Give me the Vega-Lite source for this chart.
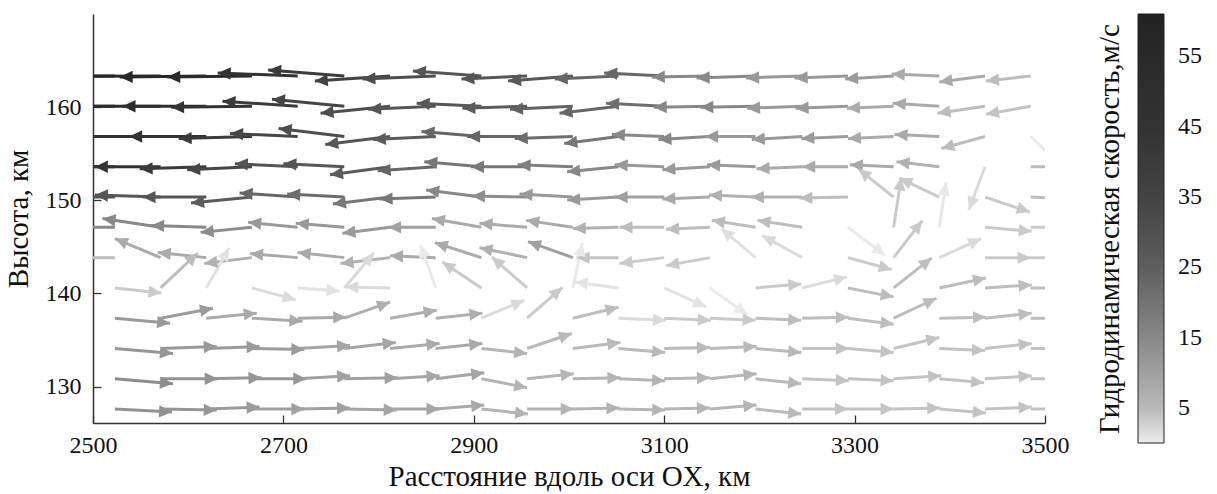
{
"$schema":"https://vega.github.io/schema/vega-lite/v6.json",
"width":952,"height":409,
"autosize":{"type":"none"},
"padding":{"left":93,"top":14,"right":172,"bottom":71},
"background":"white",
"config":{"view":{"stroke":null},"font":"Liberation Serif","axis":{"grid":false}},
"data":{"values":[
{"x":2523,"y":163.35,"x2":2431,"y2":163.35,"s":56},
{"x":2571,"y":163.35,"x2":2479,"y2":163.3,"s":55},
{"x":2619,"y":163.35,"x2":2528,"y2":163.24,"s":55},
{"x":2667,"y":163.35,"x2":2578,"y2":163.24,"s":52},
{"x":2715,"y":163.35,"x2":2631,"y2":163.67,"s":45},
{"x":2764,"y":163.35,"x2":2684,"y2":164.0,"s":40},
{"x":2812,"y":163.35,"x2":2733,"y2":162.81,"s":35},
{"x":2860,"y":163.35,"x2":2783,"y2":163.03,"s":31},
{"x":2908,"y":163.35,"x2":2836,"y2":163.89,"s":28},
{"x":2956,"y":163.35,"x2":2887,"y2":163.03,"s":28},
{"x":3004,"y":163.35,"x2":2936,"y2":162.81,"s":27},
{"x":3052,"y":163.35,"x2":2985,"y2":163.03,"s":23},
{"x":3100,"y":163.35,"x2":3037,"y2":163.67,"s":23},
{"x":3148,"y":163.35,"x2":3087,"y2":163.24,"s":15},
{"x":3196,"y":163.35,"x2":3134,"y2":163.14,"s":15},
{"x":3245,"y":163.35,"x2":3186,"y2":163.14,"s":11.5},
{"x":3293,"y":163.35,"x2":3237,"y2":163.14,"s":11.5},
{"x":3341,"y":163.35,"x2":3290,"y2":163.03,"s":11},
{"x":3389,"y":163.35,"x2":3339,"y2":163.56,"s":8},
{"x":3437,"y":163.35,"x2":3389,"y2":162.71,"s":8},
{"x":3485,"y":163.35,"x2":3438,"y2":162.81,"s":4.6},
{"x":2523,"y":160.1,"x2":2431,"y2":160.1,"s":52},
{"x":2571,"y":160.1,"x2":2481,"y2":160.1,"s":52},
{"x":2619,"y":160.1,"x2":2531,"y2":160.1,"s":50},
{"x":2667,"y":160.1,"x2":2582,"y2":159.99,"s":45},
{"x":2715,"y":160.1,"x2":2636,"y2":160.64,"s":40},
{"x":2764,"y":160.1,"x2":2688,"y2":160.85,"s":34},
{"x":2812,"y":160.1,"x2":2739,"y2":159.35,"s":31},
{"x":2860,"y":160.1,"x2":2789,"y2":159.78,"s":28},
{"x":2908,"y":160.1,"x2":2840,"y2":160.42,"s":28},
{"x":2956,"y":160.1,"x2":2888,"y2":159.89,"s":26},
{"x":3004,"y":160.1,"x2":2938,"y2":159.78,"s":24},
{"x":3052,"y":160.1,"x2":2990,"y2":159.35,"s":23},
{"x":3100,"y":160.1,"x2":3039,"y2":160.42,"s":21},
{"x":3148,"y":160.1,"x2":3089,"y2":159.99,"s":15},
{"x":3196,"y":160.1,"x2":3138,"y2":159.99,"s":15},
{"x":3245,"y":160.1,"x2":3187,"y2":159.89,"s":11.5},
{"x":3293,"y":160.1,"x2":3238,"y2":159.89,"s":11.5},
{"x":3341,"y":160.1,"x2":3292,"y2":159.89,"s":8},
{"x":3389,"y":160.1,"x2":3340,"y2":160.42,"s":8},
{"x":3437,"y":160.1,"x2":3387,"y2":159.35,"s":4.6},
{"x":3485,"y":160.1,"x2":3438,"y2":159.24,"s":4},
{"x":2523,"y":156.85,"x2":2439,"y2":156.85,"s":47},
{"x":2571,"y":156.85,"x2":2487,"y2":156.85,"s":46},
{"x":2619,"y":156.85,"x2":2538,"y2":156.85,"s":45},
{"x":2667,"y":156.85,"x2":2590,"y2":156.64,"s":40},
{"x":2715,"y":156.85,"x2":2644,"y2":157.17,"s":34},
{"x":2764,"y":156.85,"x2":2695,"y2":157.71,"s":31},
{"x":2812,"y":156.85,"x2":2744,"y2":155.99,"s":28},
{"x":2860,"y":156.85,"x2":2794,"y2":156.53,"s":26},
{"x":2908,"y":156.85,"x2":2845,"y2":157.39,"s":23},
{"x":2956,"y":156.85,"x2":2893,"y2":156.85,"s":23},
{"x":3004,"y":156.85,"x2":2943,"y2":156.64,"s":21},
{"x":3052,"y":156.85,"x2":2995,"y2":156.1,"s":19},
{"x":3100,"y":156.85,"x2":3045,"y2":157.06,"s":15},
{"x":3148,"y":156.85,"x2":3094,"y2":156.53,"s":15},
{"x":3196,"y":156.85,"x2":3143,"y2":156.85,"s":11.5},
{"x":3245,"y":156.85,"x2":3192,"y2":156.53,"s":11.5},
{"x":3293,"y":156.85,"x2":3244,"y2":156.64,"s":11},
{"x":3341,"y":156.85,"x2":3293,"y2":156.64,"s":8},
{"x":3389,"y":156.85,"x2":3342,"y2":157.06,"s":8},
{"x":3437,"y":156.85,"x2":3391,"y2":155.56,"s":4.6},
{"x":3485,"y":156.85,"x2":3520,"y2":153.31,"s":0.3},
{"x":2523,"y":153.6,"x2":2453,"y2":153.6,"s":46},
{"x":2571,"y":153.6,"x2":2502,"y2":153.6,"s":45},
{"x":2619,"y":153.6,"x2":2549,"y2":153.39,"s":40},
{"x":2667,"y":153.6,"x2":2599,"y2":153.28,"s":34},
{"x":2715,"y":153.6,"x2":2649,"y2":153.92,"s":29},
{"x":2764,"y":153.6,"x2":2700,"y2":153.92,"s":28},
{"x":2812,"y":153.6,"x2":2749,"y2":152.74,"s":26},
{"x":2860,"y":153.6,"x2":2799,"y2":153.17,"s":23},
{"x":2908,"y":153.6,"x2":2848,"y2":154.14,"s":19},
{"x":2956,"y":153.6,"x2":2897,"y2":153.6,"s":19},
{"x":3004,"y":153.6,"x2":2946,"y2":153.81,"s":17},
{"x":3052,"y":153.6,"x2":2998,"y2":153.06,"s":15},
{"x":3100,"y":153.6,"x2":3048,"y2":153.81,"s":11.5},
{"x":3148,"y":153.6,"x2":3098,"y2":153.28,"s":11.5},
{"x":3196,"y":153.6,"x2":3145,"y2":153.81,"s":11},
{"x":3245,"y":153.6,"x2":3197,"y2":153.39,"s":8},
{"x":3293,"y":153.6,"x2":3245,"y2":153.6,"s":8},
{"x":3341,"y":153.6,"x2":3295,"y2":153.81,"s":8},
{"x":3389,"y":153.6,"x2":3344,"y2":154.14,"s":6.5},
{"x":3437,"y":153.6,"x2":3420,"y2":148.99,"s":1.7},
{"x":3485,"y":153.6,"x2":3532,"y2":153.6,"s":4.6},
{"x":2523,"y":150.35,"x2":2458,"y2":150.35,"s":30},
{"x":2571,"y":150.35,"x2":2502,"y2":150.56,"s":28},
{"x":2619,"y":150.35,"x2":2552,"y2":150.35,"s":28},
{"x":2667,"y":150.35,"x2":2603,"y2":149.71,"s":26},
{"x":2715,"y":150.35,"x2":2654,"y2":150.78,"s":23},
{"x":2764,"y":150.35,"x2":2704,"y2":150.67,"s":21},
{"x":2812,"y":150.35,"x2":2752,"y2":149.6,"s":19},
{"x":2860,"y":150.35,"x2":2801,"y2":150.14,"s":19},
{"x":2908,"y":150.35,"x2":2850,"y2":151.1,"s":15},
{"x":2956,"y":150.35,"x2":2898,"y2":150.46,"s":14},
{"x":3004,"y":150.35,"x2":2948,"y2":150.67,"s":11.5},
{"x":3052,"y":150.35,"x2":2998,"y2":150.03,"s":11.5},
{"x":3100,"y":150.35,"x2":3048,"y2":150.35,"s":10},
{"x":3148,"y":150.35,"x2":3098,"y2":150.14,"s":8},
{"x":3196,"y":150.35,"x2":3147,"y2":150.56,"s":6.5},
{"x":3245,"y":150.35,"x2":3191,"y2":150.35,"s":6.5},
{"x":3293,"y":150.35,"x2":3242,"y2":150.24,"s":4.6},
{"x":3341,"y":150.35,"x2":3304,"y2":153.35,"s":3.3},
{"x":3389,"y":150.35,"x2":3347,"y2":152.39,"s":3.3},
{"x":3437,"y":150.35,"x2":3484,"y2":148.74,"s":3.3},
{"x":3485,"y":150.35,"x2":3532,"y2":150.14,"s":4.6},
{"x":2523,"y":147.1,"x2":2473,"y2":147.1,"s":15},
{"x":2571,"y":147.1,"x2":2510,"y2":148.06,"s":15},
{"x":2619,"y":147.1,"x2":2561,"y2":147.31,"s":15},
{"x":2667,"y":147.1,"x2":2613,"y2":146.56,"s":14},
{"x":2715,"y":147.1,"x2":2663,"y2":147.64,"s":11.5},
{"x":2764,"y":147.1,"x2":2713,"y2":147.53,"s":11.5},
{"x":2812,"y":147.1,"x2":2762,"y2":146.46,"s":11.5},
{"x":2860,"y":147.1,"x2":2810,"y2":147.1,"s":10},
{"x":2908,"y":147.1,"x2":2856,"y2":148.06,"s":8},
{"x":2956,"y":147.1,"x2":2906,"y2":147.53,"s":8},
{"x":3004,"y":147.1,"x2":2955,"y2":147.85,"s":8},
{"x":3052,"y":147.1,"x2":3004,"y2":146.99,"s":6.5},
{"x":3100,"y":147.1,"x2":3053,"y2":147.1,"s":4.6},
{"x":3148,"y":147.1,"x2":3102,"y2":146.89,"s":4.6},
{"x":3196,"y":147.1,"x2":3150,"y2":147.85,"s":4.6},
{"x":3245,"y":147.1,"x2":3198,"y2":147.85,"s":4.6},
{"x":3293,"y":147.1,"x2":3332,"y2":144.1,"s":0.3},
{"x":3341,"y":147.1,"x2":3349,"y2":152.46,"s":3.3},
{"x":3389,"y":147.1,"x2":3396,"y2":151.92,"s":0.5},
{"x":3437,"y":147.1,"x2":3486,"y2":146.67,"s":3.3},
{"x":3485,"y":147.1,"x2":3532,"y2":147.1,"s":3.3},
{"x":2523,"y":143.85,"x2":2475,"y2":143.85,"s":4.6},
{"x":2571,"y":143.85,"x2":2523,"y2":145.89,"s":8},
{"x":2619,"y":143.85,"x2":2568,"y2":144.39,"s":8},
{"x":2667,"y":143.85,"x2":2617,"y2":143.21,"s":6.5},
{"x":2715,"y":143.85,"x2":2665,"y2":144.28,"s":8},
{"x":2764,"y":143.85,"x2":2715,"y2":144.39,"s":8},
{"x":2812,"y":143.85,"x2":2760,"y2":143.21,"s":6.5},
{"x":2860,"y":143.85,"x2":2812,"y2":144.06,"s":8},
{"x":2908,"y":143.85,"x2":2859,"y2":145.46,"s":8},
{"x":2956,"y":143.85,"x2":2906,"y2":144.92,"s":6.5},
{"x":3004,"y":143.85,"x2":2957,"y2":145.57,"s":10},
{"x":3052,"y":143.85,"x2":3008,"y2":143.85,"s":4},
{"x":3100,"y":143.85,"x2":3053,"y2":143.21,"s":3.3},
{"x":3148,"y":143.85,"x2":3102,"y2":142.99,"s":3.3},
{"x":3196,"y":143.85,"x2":3160,"y2":146.96,"s":1.2},
{"x":3245,"y":143.85,"x2":3203,"y2":146.21,"s":1.7},
{"x":3293,"y":143.85,"x2":3339,"y2":142.56,"s":3.3},
{"x":3341,"y":143.85,"x2":3371,"y2":147.82,"s":3.3},
{"x":3389,"y":143.85,"x2":3433,"y2":145.89,"s":1.7},
{"x":3437,"y":143.85,"x2":3485,"y2":143.85,"s":3.3},
{"x":3485,"y":143.85,"x2":3532,"y2":143.85,"s":3.3},
{"x":2523,"y":140.6,"x2":2572,"y2":140.06,"s":3.3},
{"x":2571,"y":140.6,"x2":2610,"y2":144.35,"s":4.6},
{"x":2619,"y":140.6,"x2":2643,"y2":144.89,"s":1},
{"x":2667,"y":140.6,"x2":2713,"y2":139.31,"s":1.7},
{"x":2715,"y":140.6,"x2":2759,"y2":140.28,"s":1},
{"x":2764,"y":140.6,"x2":2795,"y2":144.35,"s":1.7},
{"x":2812,"y":140.6,"x2":2765,"y2":140.71,"s":1.7},
{"x":2860,"y":140.6,"x2":2844,"y2":145.21,"s":0.3},
{"x":2908,"y":140.6,"x2":2867,"y2":143.39,"s":3.3},
{"x":2956,"y":140.6,"x2":2919,"y2":143.92,"s":3.3},
{"x":3004,"y":140.6,"x2":3014,"y2":145.42,"s":0.3},
{"x":3052,"y":140.6,"x2":3006,"y2":141.24,"s":1},
{"x":3100,"y":140.6,"x2":3144,"y2":138.56,"s":1},
{"x":3148,"y":140.6,"x2":3187,"y2":137.71,"s":0.3},
{"x":3196,"y":140.6,"x2":3244,"y2":141.03,"s":3.3},
{"x":3245,"y":140.6,"x2":3292,"y2":141.78,"s":1.7},
{"x":3293,"y":140.6,"x2":3341,"y2":139.64,"s":4.6},
{"x":3341,"y":140.6,"x2":3381,"y2":143.82,"s":4.6},
{"x":3389,"y":140.6,"x2":3438,"y2":141.67,"s":4.6},
{"x":3437,"y":140.6,"x2":3486,"y2":140.92,"s":4.6},
{"x":3485,"y":140.6,"x2":3532,"y2":140.6,"s":4.6},
{"x":2523,"y":137.35,"x2":2581,"y2":136.81,"s":11.5},
{"x":2571,"y":137.35,"x2":2626,"y2":138.42,"s":11},
{"x":2619,"y":137.35,"x2":2672,"y2":137.89,"s":8},
{"x":2667,"y":137.35,"x2":2720,"y2":137.03,"s":8},
{"x":2715,"y":137.35,"x2":2766,"y2":137.46,"s":8},
{"x":2764,"y":137.35,"x2":2812,"y2":139.07,"s":7},
{"x":2812,"y":137.35,"x2":2861,"y2":138.21,"s":7},
{"x":2860,"y":137.35,"x2":2909,"y2":137.89,"s":7},
{"x":2908,"y":137.35,"x2":2953,"y2":139.28,"s":1.7},
{"x":2956,"y":137.35,"x2":2993,"y2":140.67,"s":3.3},
{"x":3004,"y":137.35,"x2":3052,"y2":138.53,"s":4.6},
{"x":3052,"y":137.35,"x2":3102,"y2":137.14,"s":1.7},
{"x":3100,"y":137.35,"x2":3149,"y2":137.14,"s":3.3},
{"x":3148,"y":137.35,"x2":3196,"y2":137.14,"s":3.3},
{"x":3196,"y":137.35,"x2":3244,"y2":137.14,"s":4.6},
{"x":3245,"y":137.35,"x2":3294,"y2":137.46,"s":4.6},
{"x":3293,"y":137.35,"x2":3341,"y2":136.71,"s":4.6},
{"x":3341,"y":137.35,"x2":3386,"y2":139.49,"s":4.6},
{"x":3389,"y":137.35,"x2":3438,"y2":137.46,"s":4.6},
{"x":3437,"y":137.35,"x2":3486,"y2":137.89,"s":4.6},
{"x":3485,"y":137.35,"x2":3532,"y2":137.35,"s":4.6},
{"x":2523,"y":134.1,"x2":2584,"y2":133.56,"s":12},
{"x":2571,"y":134.1,"x2":2630,"y2":134.31,"s":11.5},
{"x":2619,"y":134.1,"x2":2675,"y2":134.31,"s":11},
{"x":2667,"y":134.1,"x2":2722,"y2":133.99,"s":11},
{"x":2715,"y":134.1,"x2":2770,"y2":134.42,"s":9},
{"x":2764,"y":134.1,"x2":2818,"y2":134.74,"s":9},
{"x":2812,"y":134.1,"x2":2864,"y2":134.64,"s":8},
{"x":2860,"y":134.1,"x2":2909,"y2":134.64,"s":8},
{"x":2908,"y":134.1,"x2":2956,"y2":133.56,"s":6},
{"x":2956,"y":134.1,"x2":3003,"y2":135.71,"s":5},
{"x":3004,"y":134.1,"x2":3054,"y2":134.74,"s":5},
{"x":3052,"y":134.1,"x2":3101,"y2":133.67,"s":5},
{"x":3100,"y":134.1,"x2":3148,"y2":134.21,"s":5},
{"x":3148,"y":134.1,"x2":3197,"y2":134.31,"s":5},
{"x":3196,"y":134.1,"x2":3244,"y2":133.67,"s":5},
{"x":3245,"y":134.1,"x2":3294,"y2":134.1,"s":4},
{"x":3293,"y":134.1,"x2":3341,"y2":133.67,"s":4},
{"x":3341,"y":134.1,"x2":3389,"y2":135.28,"s":4},
{"x":3389,"y":134.1,"x2":3437,"y2":133.89,"s":4},
{"x":3437,"y":134.1,"x2":3486,"y2":134.64,"s":4},
{"x":3485,"y":134.1,"x2":3532,"y2":134.1,"s":4},
{"x":2523,"y":130.85,"x2":2584,"y2":130.31,"s":14},
{"x":2571,"y":130.85,"x2":2631,"y2":130.85,"s":13},
{"x":2619,"y":130.85,"x2":2677,"y2":130.96,"s":12},
{"x":2667,"y":130.85,"x2":2724,"y2":130.85,"s":12},
{"x":2715,"y":130.85,"x2":2770,"y2":131.17,"s":10},
{"x":2764,"y":130.85,"x2":2820,"y2":130.96,"s":10},
{"x":2812,"y":130.85,"x2":2864,"y2":131.17,"s":9},
{"x":2860,"y":130.85,"x2":2911,"y2":131.49,"s":9},
{"x":2908,"y":130.85,"x2":2956,"y2":129.89,"s":6},
{"x":2956,"y":130.85,"x2":3005,"y2":131.39,"s":6},
{"x":3004,"y":130.85,"x2":3054,"y2":130.96,"s":6},
{"x":3052,"y":130.85,"x2":3101,"y2":130.64,"s":6},
{"x":3100,"y":130.85,"x2":3148,"y2":130.96,"s":5.5},
{"x":3148,"y":130.85,"x2":3197,"y2":131.39,"s":5.5},
{"x":3196,"y":130.85,"x2":3244,"y2":130.31,"s":5},
{"x":3245,"y":130.85,"x2":3294,"y2":130.64,"s":4},
{"x":3293,"y":130.85,"x2":3341,"y2":130.64,"s":4},
{"x":3341,"y":130.85,"x2":3391,"y2":131.17,"s":4},
{"x":3389,"y":130.85,"x2":3436,"y2":130.42,"s":4},
{"x":3437,"y":130.85,"x2":3486,"y2":131.17,"s":4},
{"x":3485,"y":130.85,"x2":3532,"y2":130.85,"s":4},
{"x":2523,"y":127.6,"x2":2583,"y2":127.28,"s":13},
{"x":2571,"y":127.6,"x2":2630,"y2":127.49,"s":12},
{"x":2619,"y":127.6,"x2":2675,"y2":127.81,"s":11},
{"x":2667,"y":127.6,"x2":2722,"y2":127.6,"s":10},
{"x":2715,"y":127.6,"x2":2770,"y2":127.71,"s":10},
{"x":2764,"y":127.6,"x2":2819,"y2":127.49,"s":9},
{"x":2812,"y":127.6,"x2":2864,"y2":127.6,"s":9},
{"x":2860,"y":127.6,"x2":2911,"y2":128.03,"s":8},
{"x":2908,"y":127.6,"x2":2957,"y2":127.06,"s":6},
{"x":2956,"y":127.6,"x2":3005,"y2":127.6,"s":6},
{"x":3004,"y":127.6,"x2":3053,"y2":127.71,"s":6},
{"x":3052,"y":127.6,"x2":3101,"y2":127.49,"s":5.5},
{"x":3100,"y":127.6,"x2":3148,"y2":127.71,"s":5.5},
{"x":3148,"y":127.6,"x2":3197,"y2":128.03,"s":5.5},
{"x":3196,"y":127.6,"x2":3244,"y2":127.06,"s":5},
{"x":3245,"y":127.6,"x2":3293,"y2":127.6,"s":4},
{"x":3293,"y":127.6,"x2":3341,"y2":127.6,"s":4},
{"x":3341,"y":127.6,"x2":3390,"y2":127.71,"s":4},
{"x":3389,"y":127.6,"x2":3438,"y2":127.17,"s":4},
{"x":3437,"y":127.6,"x2":3486,"y2":127.81,"s":4},
{"x":3485,"y":127.6,"x2":3534,"y2":127.6,"s":4}
]},
"transform":[{"calculate":"atan2(-(datum.y2-datum.y)*9.317,(datum.x2-datum.x)*0.952)*180/PI","as":"ang"}],
"layer":[
 {"mark":{"type":"rule","strokeWidth":3,"clip":true},
  "encoding":{
   "x":{"field":"x","type":"quantitative","scale":{"domain":[2500,3500],"nice":false,"zero":false},
    "axis":{"title":"Расстояние вдоль оси OX, км","values":[2500,2700,2900,3100,3300,3500],"format":"d","ticks":false,"grid":false,"labelFlush":false,"labelPadding":10,"titlePadding":5,
     "labelFont":"Liberation Serif","labelFontSize":24,"labelColor":"#111","titleFont":"Liberation Serif","titleFontSize":29,"titleFontWeight":"normal","titleColor":"#111","domainColor":"#333","domainWidth":1.5}},
   "y":{"field":"y","type":"quantitative","scale":{"domain":[126.1,170],"nice":false,"zero":false},
    "axis":{"title":"Высота, км","values":[130,140,150,160],"format":"d","ticks":false,"grid":false,"labelFlush":false,"labelPadding":12,"titlePadding":12,
     "labelFont":"Liberation Serif","labelFontSize":24,"labelColor":"#111","titleFont":"Liberation Serif","titleFontSize":29,"titleFontWeight":"normal","titleColor":"#111","domainColor":"#333","domainWidth":1.5}},
   "x2":{"field":"x2"},"y2":{"field":"y2"},
   "color":{"field":"s","type":"quantitative",
    "scale":{"domain":[0,5,15,25,35,45,55,61],"range":["#ececec","#b9b9b9","#888888","#5e5e5e","#434343","#333333","#292929","#222222"]},
    "legend":null}}},
 {"mark":{"type":"point","filled":true,"opacity":1,"size":169,"shape":"M0,0L-2,-0.95L-2,0.95Z","clip":true},
  "encoding":{
   "x":{"field":"x2","type":"quantitative","axis":{"orient":"top","offset":-409,"values":[2500,2700,2900,3100,3300,3500],"labels":false,"domain":false,"grid":false,"title":null,"tickSize":8,"tickColor":"#333","tickWidth":1.3}},
   "y":{"field":"y2","type":"quantitative","axis":{"orient":"right","offset":-952,"values":[130,140,150,160],"labels":false,"domain":false,"grid":false,"title":null,"tickSize":8,"tickColor":"#333","tickWidth":1.3}},
   "angle":{"field":"ang","type":"quantitative","scale":null},
   "color":{"field":"s","type":"quantitative",
    "legend":{"type":"gradient","orient":"none","legendX":1003,"legendY":0,"direction":"vertical","gradientLength":429,"gradientThickness":26,
     "gradientStrokeColor":"#222","gradientStrokeWidth":1,"values":[5,15,25,35,45,55],
     "title":"Гидродинамическая скорость,м/с","titleOrient":"left","titleAnchor":"middle","titleFont":"Liberation Serif","titleFontSize":29,"titleFontWeight":"normal","titleColor":"#111","titlePadding":12,"titleLimit":600,
     "labelFont":"Liberation Serif","labelFontSize":24,"labelColor":"#111","labelOffset":14,
     "encode":{"title":{"update":{"angle":{"value":270},"align":{"value":"center"},"baseline":{"value":"bottom"}}}}}}}}
],
"resolve":{"axis":{"x":"independent","y":"independent"},"legend":{"color":"independent"}}
}
